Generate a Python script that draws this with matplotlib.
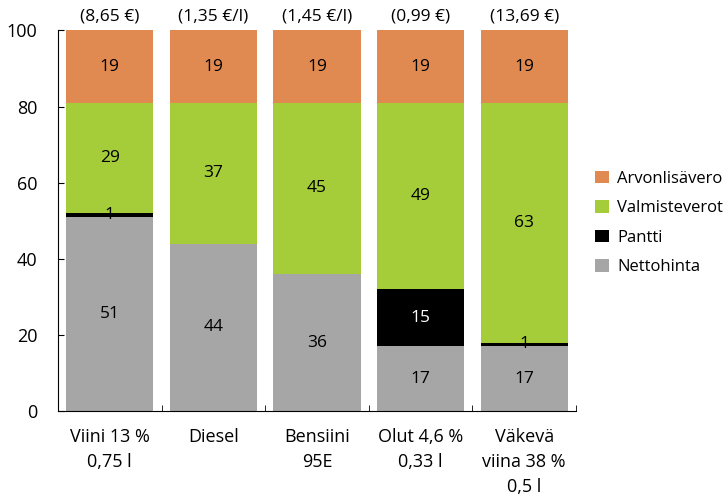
import matplotlib.pyplot as plt
import numpy as np

plt.rcParams['font.family'] = ['Open Sans', 'DejaVu Sans']

categories = ['Viini 13 %\n0,75 l', 'Diesel', 'Bensiini\n95E', 'Olut 4,6 %\n0,33 l', 'Väkevä\nviina 38 %\n0,5 l']
prices = ['(8,65 €)', '(1,35 €/l)', '(1,45 €/l)', '(0,99 €)', '(13,69 €)']
nettohinta = [51, 44, 36, 17, 17]
pantti = [1, 0, 0, 15, 1]
valmisteverot = [29, 37, 45, 49, 63]
arvonlisavero = [19, 19, 19, 19, 19]

series = [('Nettohinta', nettohinta, '#a6a6a6'),
          ('Pantti', pantti, '#000000'),
          ('Valmisteverot', valmisteverot, '#a5cd39'),
          ('Arvonlisävero', arvonlisavero, '#e08a52')]

fig = plt.figure(figsize=(7.27, 4.99), dpi=100)
ax = fig.add_axes([58 / 727, 88 / 499, 518 / 727, 380.5 / 499])

x = np.arange(len(categories))
bottom = np.zeros(len(categories))
handles = []
for name, vals, col in series:
    vals = np.array(vals, dtype=float)
    b = ax.bar(x, vals, 0.84, bottom=bottom, color=col, label=name)
    handles.append(b)
    for i, v in enumerate(vals):
        if v > 0:
            tc = 'white' if col == '#000000' and v > 3 else 'black'
            ax.text(x[i], bottom[i] + v / 2, f'{int(v)}', ha='center', va='center',
                    fontsize=12.5, color=tc)
    bottom += vals

for i, p in enumerate(prices):
    ax.text(x[i], 101.5, p, ha='center', va='bottom', fontsize=12.5, clip_on=False)

ax.set_xlim(-0.5, 4.5)
ax.set_ylim(0, 100)
ax.set_yticks([0, 20, 40, 60, 80, 100])
ax.set_xticks(x)
ax.set_xticklabels(categories, fontsize=13, linespacing=1.5)
ax.tick_params(axis='x', length=0, pad=12)
ax.set_xticks(np.arange(0.5, 5, 1), minor=True)
ax.tick_params(axis='x', which='minor', direction='in', length=4)
ax.tick_params(axis='y', direction='in', length=4, labelsize=13, pad=15)
ax.spines['top'].set_visible(False)
ax.spines['right'].set_visible(False)

fig.legend(handles[::-1], [h.get_label() for h in handles[::-1]],
           loc='center left', bbox_to_anchor=(0.819, 0.553), frameon=False,
           fontsize=12, handlelength=0.8, handleheight=0.8, labelspacing=0.8,
           handletextpad=0.5, borderaxespad=0, borderpad=0)

fig.savefig('out.png', dpi=100)
